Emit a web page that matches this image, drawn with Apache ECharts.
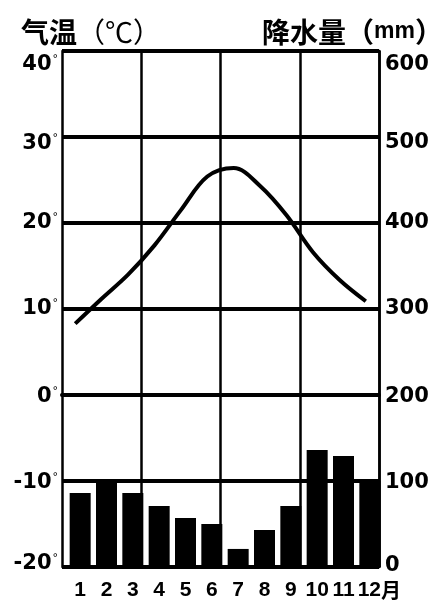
<!DOCTYPE html>
<html>
<head>
<meta charset="utf-8">
<script src="https://cdn.jsdelivr.net/npm/echarts@6/dist/echarts.min.js"></script>
<style>
html,body{margin:0;padding:0;background:#fff;}
#chart{width:443px;height:616px;}
</style>
</head>
<body>
<div id="chart"></div>
<script>
const months = ['1','2','3','4','5','6','7','8','9','10','11','12'];
const temperature = [8.3, 11.2, 14.0, 17.4, 21.5, 25.4, 26.4, 24.3, 20.9, 16.6, 13.4, 10.9];
const precipitation = [86, 101, 86, 71, 57, 50, 21, 43, 71, 136, 129, 100];
const tempName = '气温';
const tempUnit = '℃';
const precName = '降水量';
const precUnit = 'mm';
const monthSuffix = '月';

// hand-drawn label nudges (px, downward) of the original figure
const leftNudge = {'40': 14, '30': 7, '20': 0, '10': 0, '0': 2, '-10': 2, '-20': -3};
const rightNudge = {'600': 14, '500': 6, '400': 0, '300': 0, '200': 2, '100': 2, '0': -1};

const numFont = '"DejaVu Sans", sans-serif';
function pad(d) { return d >= 0 ? [2 * d, 0, 0, 0] : [0, 0, -2 * d, 0]; }
const leftRich = {}, rightRich = {};
Object.keys(leftNudge).forEach((k, i) => {
  const d = leftNudge[k];
  leftRich['a' + i] = {fontFamily: numFont, fontWeight: 'bold', fontSize: 21, color: '#000', lineHeight: 22, padding: pad(d)};
  leftRich['b' + i] = {fontFamily: numFont, fontSize: 11, color: '#000', lineHeight: 22, padding: [Math.max(0, 2 * d), 0, 12 + Math.max(0, -2 * d), 1]};
});
Object.keys(rightNudge).forEach((k, i) => {
  rightRich['r' + i] = {fontFamily: numFont, fontWeight: 'bold', fontSize: 21, color: '#000', lineHeight: 22, padding: pad(rightNudge[k])};
});
const leftKeys = Object.keys(leftNudge), rightKeys = Object.keys(rightNudge);

const cjk = '"Noto Sans CJK SC"';
const chart = echarts.init(document.getElementById('chart'), null, {renderer: 'canvas'});
const option = {
  animation: false,
  backgroundColor: '#fff',
  title: [
    {
      text: '{c|' + tempName + '}{p|（}{u|' + tempUnit + '}{p|）}',
      left: 21, top: 16, padding: 0,
      textStyle: {
        rich: {
          c: {fontFamily: cjk, fontWeight: 'bold', fontSize: 28, color: '#000', lineHeight: 32},
          p: {fontFamily: cjk, fontWeight: 'normal', fontSize: 28, color: '#000', lineHeight: 32},
          u: {fontFamily: cjk, fontWeight: 'normal', fontSize: 28, color: '#000', lineHeight: 32}
        }
      }
    },
    {
      text: '{c|' + precName + '}{p|（}{u|' + precUnit + '}{p|）}',
      right: 0, top: 16, padding: 0,
      textStyle: {
        rich: {
          c: {fontFamily: cjk, fontWeight: 'bold', fontSize: 28, color: '#000', lineHeight: 32},
          p: {fontFamily: cjk, fontWeight: 'bold', fontSize: 28, color: '#000', lineHeight: 32},
          u: {fontFamily: '"Liberation Sans", Arial, sans-serif', fontWeight: 'bold', fontSize: 23, color: '#000', lineHeight: 32}
        }
      }
    }
  ],
  grid: [
    {left: 62, right: 64, top: 51, bottom: 49},
    {left: 67, right: 60, top: 51, bottom: 49}
  ],
  xAxis: [
    {
      type: 'category', gridIndex: 0, data: months, boundaryGap: true,
      axisLine: {show: true, lineStyle: {color: '#000', width: 4}},
      axisTick: {show: false}, axisLabel: {show: false},
      splitLine: {show: true, interval: (i) => i > 0 && i % 3 === 0, lineStyle: {color: '#000', width: 2.5}}
    },
    {
      type: 'category', gridIndex: 1, data: months, boundaryGap: true,
      axisLine: {show: false}, axisTick: {show: false}, splitLine: {show: false},
      axisLabel: {
        interval: 0, margin: 13, color: '#000', fontSize: 21, fontWeight: 'bold',
        fontFamily: '"Liberation Sans", Arial, sans-serif',
        formatter: (v, i) => i === months.length - 1 ? '{p|}' + v + '{m|' + monthSuffix + '}' : v,
        rich: {
          p: {width: 19},
          m: {fontFamily: cjk, fontSize: 20, color: '#000'}
        }
      }
    }
  ],
  yAxis: [
    {
      type: 'value', gridIndex: 0, min: -20, max: 40, interval: 10, position: 'left',
      axisLine: {show: true, lineStyle: {color: '#000', width: 2.5}},
      axisTick: {show: false},
      splitLine: {show: true, lineStyle: {color: '#000', width: 4}},
      axisLabel: {
        margin: 4, color: '#000',
        formatter: (v) => { const i = leftKeys.indexOf(String(v)); return '{a' + i + '|' + v + '}{b' + i + '|°}'; },
        rich: leftRich
      }
    },
    {
      type: 'value', gridIndex: 0, min: 0, max: 600, interval: 100, position: 'right',
      axisLine: {show: true, lineStyle: {color: '#000', width: 2.5}},
      axisTick: {show: false}, splitLine: {show: false},
      axisLabel: {
        margin: 6, color: '#000',
        formatter: (v) => { const i = rightKeys.indexOf(String(v)); return '{r' + i + '|' + v + '}'; },
        rich: rightRich
      }
    },
    {
      type: 'value', gridIndex: 1, min: 0, max: 600, interval: 100, show: false,
      splitLine: {show: false}
    }
  ],
  series: [
    {
      type: 'bar', xAxisIndex: 1, yAxisIndex: 2, data: precipitation,
      barWidth: 21, itemStyle: {color: '#000'}, z: 3
    },
    {
      type: 'line', xAxisIndex: 0, yAxisIndex: 0, data: temperature,
      smooth: 0.35, showSymbol: false, symbol: 'none',
      lineStyle: {color: '#000', width: 4}, z: 4
    }
  ]
};
chart.setOption(option);
</script>
</body>
</html>
